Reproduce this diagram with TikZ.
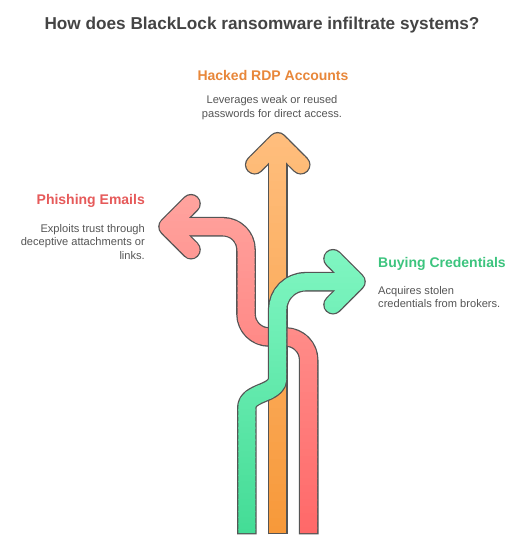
\documentclass[tikz,border=0pt]{standalone}
\usepackage{fontspec}
\setmainfont{Liberation Sans}
\setsansfont{Liberation Sans}
\definecolor{outl}{HTML}{555555}
\definecolor{ortop}{HTML}{FFBE7D}
\definecolor{orbot}{HTML}{F7993A}
\definecolor{rdtop}{HTML}{FFA39E}
\definecolor{rdbot}{HTML}{FF6969}
\definecolor{grtop}{HTML}{80F6C2}
\definecolor{grbot}{HTML}{44DC96}
\definecolor{titlec}{HTML}{444444}
\definecolor{descc}{HTML}{555555}
\definecolor{orlab}{HTML}{E8873A}
\definecolor{rdlab}{HTML}{E65A5A}
\definecolor{grlab}{HTML}{3CC47E}
\tikzset{
  outstroke/.style={draw=outl, line width=19.6pt, line join=round},
  fillstroke/.style={line width=17pt, line join=round},
  headcap/.style={line cap=round},
  shaftcap/.style={line cap=butt},
  titletext/.style={font=\bfseries\fontsize{17.2}{20}\selectfont, text=titlec},
  headtext/.style={font=\bfseries\fontsize{14}{17}\selectfont, inner sep=0pt},
  desctext/.style={font=\fontsize{11.1}{13.5}\selectfont, text=descc, inner sep=0pt}
}
% arrow geometry: shaft path with bottom y as argument, and head
\newcommand{\orShaft}[1]{(277.7,#1) -- (277.7,141.75)}
\newcommand{\orHead}{(254.7,164.75) -- (277.7,141.75) -- (300.7,164.75)}
\newcommand{\rdShaft}[1]{[rounded corners=23pt] (308.7,#1) -- (308.7,337) -- (246,337) -- (246,226.7) -- (168,226.7)}
\newcommand{\rdHead}{(191,203.7) -- (168,226.7) -- (191,249.7)}
\newcommand{\grShaft}[1]{(246.8,#1) -- (246.8,408) .. controls (246.8,391) and (277.7,395) .. (277.7,378) -- (277.7,309.7) .. controls (277.7,294.2) and (290.2,281.7) .. (305.7,281.7) -- (356,281.7)}
\newcommand{\grHead}{(333,258.7) -- (356,281.7) -- (333,304.7)}
% gradient fill by horizontal bands
\newcommand{\gradArrow}[6]{% #1 shaft macro, #2 head macro, #3 top, #4 bottom colour, #5 ytop, #6 ybot
  \draw[outstroke, shaftcap] #1{534.3};
  \draw[outstroke, headcap] #2;
  \pgfmathsetmacro{\bandh}{(#6-#5)/48}
  \foreach \i in {0,...,47}{
    \pgfmathsetmacro{\ya}{#5+\bandh*\i}
    \pgfmathsetmacro{\yb}{\ya+\bandh+0.7}
    \pgfmathsetmacro{\pc}{100-100/47*\i}
    \begin{scope}
      \clip (0,\ya) rectangle (531,\yb);
      \draw[fillstroke, shaftcap, color=#3!\pc!#4] #1{533.1};
      \draw[fillstroke, headcap, color=#3!\pc!#4] #2;
    \end{scope}
  }
}
\begin{document}
\begin{tikzpicture}[x=1pt,y=-1pt]
\useasboundingbox[fill=white] (0,0) rectangle (531,541);
% arrows
\gradArrow{\orShaft}{\orHead}{ortop}{orbot}{131}{535}
\gradArrow{\rdShaft}{\rdHead}{rdtop}{rdbot}{193}{535}
\gradArrow{\grShaft}{\grHead}{grtop}{grbot}{248}{535}
% texts
\node[titletext] (title) at (262,25) {How does BlackLock ransomware infiltrate systems?};
\node[headtext, text=orlab] (rdph) at (273,75) {Hacked RDP Accounts};
\node[desctext, align=center, anchor=north] (rdpd) at (272,95.5) {Leverages weak or reused\\passwords for direct access.};
\node[headtext, text=rdlab, anchor=east] (phh) at (145,201) {Phishing Emails};
\node[desctext, align=right, anchor=north east] (phd) at (145,224) {Exploits trust through\\deceptive attachments or\\links.};
\node[headtext, text=grlab, anchor=west] (buh) at (378,264) {Buying Credentials};
\node[desctext, align=left, anchor=north west] (bud) at (378,286) {Acquires stolen\\credentials from brokers.};
\end{tikzpicture}
\end{document}
